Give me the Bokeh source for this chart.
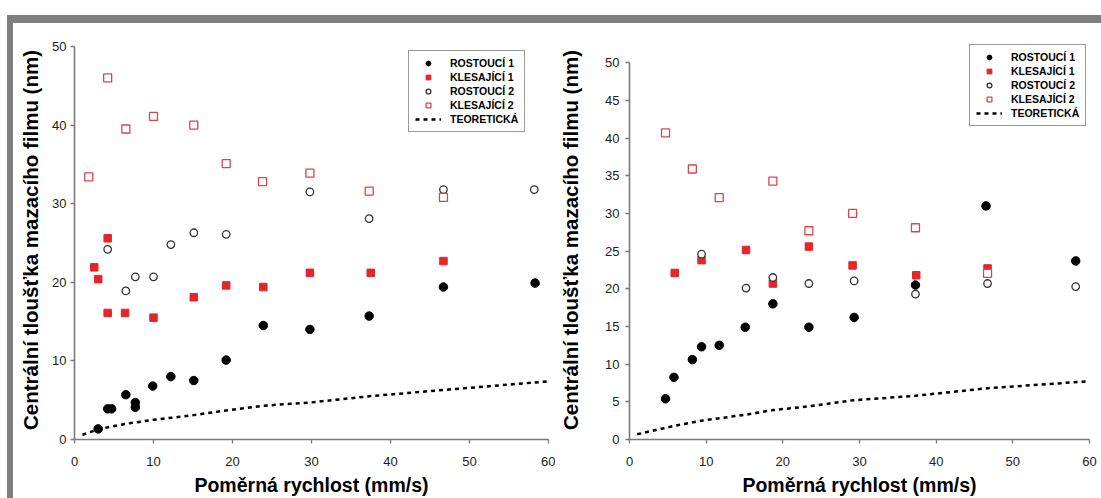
from bokeh.plotting import figure
from bokeh.models import Legend, LegendItem, Range1d, FixedTicker, Div, Spacer
from bokeh.layouts import column, row
from bokeh.embed import file_html
from bokeh.resources import INLINE

# ---------------- data: left panel ----------------
r1_x_left = [3.0, 4.2, 4.7, 6.5, 7.7, 7.7, 9.9, 12.2, 15.1, 19.2, 23.9, 29.8, 37.3, 46.7, 58.3]
r1_y_left = [1.35, 3.9, 3.9, 5.7, 4.7, 4.1, 6.8, 8.0, 7.5, 10.1, 14.5, 14.0, 15.7, 19.4, 19.9]

k1_x_left = [2.5, 3.0, 4.2, 4.2, 6.4, 10.0, 15.1, 19.2, 23.9, 29.8, 37.5, 46.7]
k1_y_left = [21.9, 20.4, 25.6, 16.1, 16.1, 15.5, 18.1, 19.6, 19.4, 21.2, 21.2, 22.7]

r2_x_left = [4.2, 6.5, 7.7, 10.0, 12.2, 15.1, 19.2, 29.8, 37.3, 46.7, 58.2]
r2_y_left = [24.2, 18.9, 20.7, 20.7, 24.8, 26.3, 26.1, 31.5, 28.1, 31.8, 31.8]

k2_x_left = [1.8, 4.2, 6.5, 10.0, 15.1, 19.2, 23.8, 29.8, 37.3, 46.7]
k2_y_left = [33.4, 46.0, 39.5, 41.1, 40.0, 35.1, 32.8, 33.9, 31.6, 30.8]

teor_x_left = [1.0, 3.0, 6.5, 10.0, 15.1, 19.2, 23.9, 29.8, 37.3, 46.7, 60.0]
teor_y_left = [0.6, 1.3, 2.0, 2.5, 3.1, 3.7, 4.3, 4.7, 5.5, 6.3, 7.4]

# ---------------- data: right panel ----------------
r1_x_right = [4.7, 5.8, 8.2, 9.4, 11.7, 15.1, 18.7, 23.4, 29.3, 37.3, 46.5, 58.2]
r1_y_right = [5.4, 8.25, 10.6, 12.3, 12.5, 14.9, 18.0, 14.9, 16.2, 20.5, 31.0, 23.7]

k1_x_right = [5.9, 9.4, 15.2, 18.7, 23.4, 29.1, 37.4, 46.7]
k1_y_right = [22.1, 23.8, 25.15, 20.7, 25.6, 23.1, 21.8, 22.7]

r2_x_right = [9.4, 15.2, 18.7, 23.4, 29.3, 37.3, 46.7, 58.2]
r2_y_right = [24.6, 20.1, 21.5, 20.7, 21.05, 19.3, 20.7, 20.3]

k2_x_right = [4.7, 8.2, 11.7, 18.7, 23.4, 29.1, 37.3, 46.7]
k2_y_right = [40.7, 35.9, 32.1, 34.3, 27.7, 30.0, 28.1, 22.05]

teor_x_right = [1.0, 5.8, 9.4, 15.2, 18.7, 23.4, 29.1, 37.3, 46.7, 59.5]
teor_y_right = [0.7, 1.8, 2.5, 3.3, 3.9, 4.4, 5.2, 5.8, 6.8, 7.7]

labels = ["ROSTOUCÍ 1", "KLESAJÍCÍ 1", "ROSTOUCÍ 2", "KLESAJÍCÍ 2", "TEORETICKÁ"]
x_ticks = [0, 10, 20, 30, 40, 50, 60]
y_ticks_left = [0, 10, 20, 30, 40, 50]
y_ticks_right = [0, 5, 10, 15, 20, 25, 30, 35, 40, 45, 50]
x_title = "Poměrná rychlost (mm/s)"
y_title = "Centrální tloušťka mazacího filmu (nm)"

RED = "#e3262b"
RED_OPEN = "#d9474a"
FONT = "Liberation Sans"


def panel(width, borders, y_end, yticks, ylab_standoff, ytick_standoff, series, legend_loc):
    bl, br, bt, bb = borders
    p = figure(width=width, height=475, x_range=Range1d(0, 60), y_range=Range1d(0, y_end),
               output_backend="svg", toolbar_location=None,
               min_border_left=bl, min_border_right=br, min_border_top=bt, min_border_bottom=bb,
               background_fill_color="white", border_fill_color="white")
    p.outline_line_color = None
    p.xgrid.grid_line_color = None
    p.ygrid.grid_line_color = None
    p.xaxis.ticker = FixedTicker(ticks=x_ticks)
    p.yaxis.ticker = FixedTicker(ticks=yticks)
    p.yaxis.bounds = (0, 50)
    for ax in (p.xaxis[0], p.yaxis[0]):
        ax.minor_tick_line_color = None
        ax.major_tick_in = 0
        ax.major_tick_out = 4
        ax.axis_line_color = "#7a7a7a"
        ax.axis_line_width = 1.6
        ax.major_tick_line_color = "#7a7a7a"
        ax.major_tick_line_width = 1.3
        ax.major_label_text_font = FONT
        ax.major_label_text_font_size = "13px"
        ax.major_label_text_color = "#222222"
        ax.axis_label_text_font = FONT
        ax.axis_label_text_font_style = "bold"
        ax.axis_label_text_color = "black"
    p.xaxis.axis_label = x_title
    p.yaxis.axis_label = y_title
    p.xaxis.axis_label_text_font_size = "19.5px"
    p.yaxis.axis_label_text_font_size = "20.5px"
    p.xaxis.major_label_standoff = 13
    p.xaxis.axis_label_standoff = 5
    p.yaxis.major_label_standoff = ytick_standoff
    p.yaxis.axis_label_standoff = ylab_standoff

    (r1x, r1y), (k1x, k1y), (r2x, r2y), (k2x, k2y), (tx, ty) = series
    g1 = p.scatter(r1x, r1y, marker="circle", size=8.5, fill_color="black", line_color="black")
    g2 = p.scatter(k1x, k1y, marker="square", size=7.5, fill_color=RED, line_color=RED)
    g3 = p.scatter(r2x, r2y, marker="circle", size=7.5, fill_color="white", line_color="#333333", line_width=1.3)
    g4 = p.scatter(k2x, k2y, marker="square", size=8, fill_color="white", line_color=RED_OPEN, line_width=1.3)
    g5 = p.line(tx, ty, line_color="black", line_width=2.5, line_dash="4 4")

    items = [LegendItem(label=lab, renderers=[g]) for lab, g in zip(labels, [g1, g2, g3, g4, g5])]
    leg = Legend(items=items, location=legend_loc)
    leg.label_text_font = FONT
    leg.label_text_font_style = "bold"
    leg.label_text_font_size = "10.5px"
    leg.label_text_color = "black"
    leg.glyph_width = 26
    leg.glyph_height = 12
    leg.label_height = 12
    leg.spacing = 2
    leg.padding = 6
    leg.margin = 0
    leg.label_standoff = 9
    leg.border_line_color = "#333333"
    leg.border_line_width = 1
    leg.background_fill_color = "white"
    leg.background_fill_alpha = 1
    p.add_layout(leg)
    return p


# both frames: top at y=40, bottom at y=440 (figures span y=23..498)
p1 = panel(542, (61, 7, 17, 58), 50.76, y_ticks_left, 7, 4,
           [(r1_x_left, r1_y_left), (k1_x_left, k1_y_left), (r2_x_left, r2_y_left),
            (k2_x_left, k2_y_left), (teor_x_left, teor_y_left)],
           (334, 307))
p2 = panel(546, (74, 12, 17, 58), 52.95, y_ticks_right, 20, 6,
           [(r1_x_right, r1_y_right), (k1_x_right, k1_y_right), (r2_x_right, r2_y_right),
            (k2_x_right, k2_y_right), (teor_x_right, teor_y_right)],
           (340, 313))

GRAY = "#808080"
top_white = Spacer(width=1101, height=15)
top_band = row(Spacer(width=7, height=8),
               Div(text="", width=1094, height=8, margin=0, styles={"background-color": GRAY}),
               spacing=0)
left_band = row(Spacer(width=7, height=475),
                Div(text="", width=6, height=475, margin=0, styles={"background-color": GRAY}),
                spacing=0)

layout = column(top_white, top_band, row(left_band, p1, p2, spacing=0), spacing=0)

open("out.html", "w").write(file_html(layout, INLINE))
